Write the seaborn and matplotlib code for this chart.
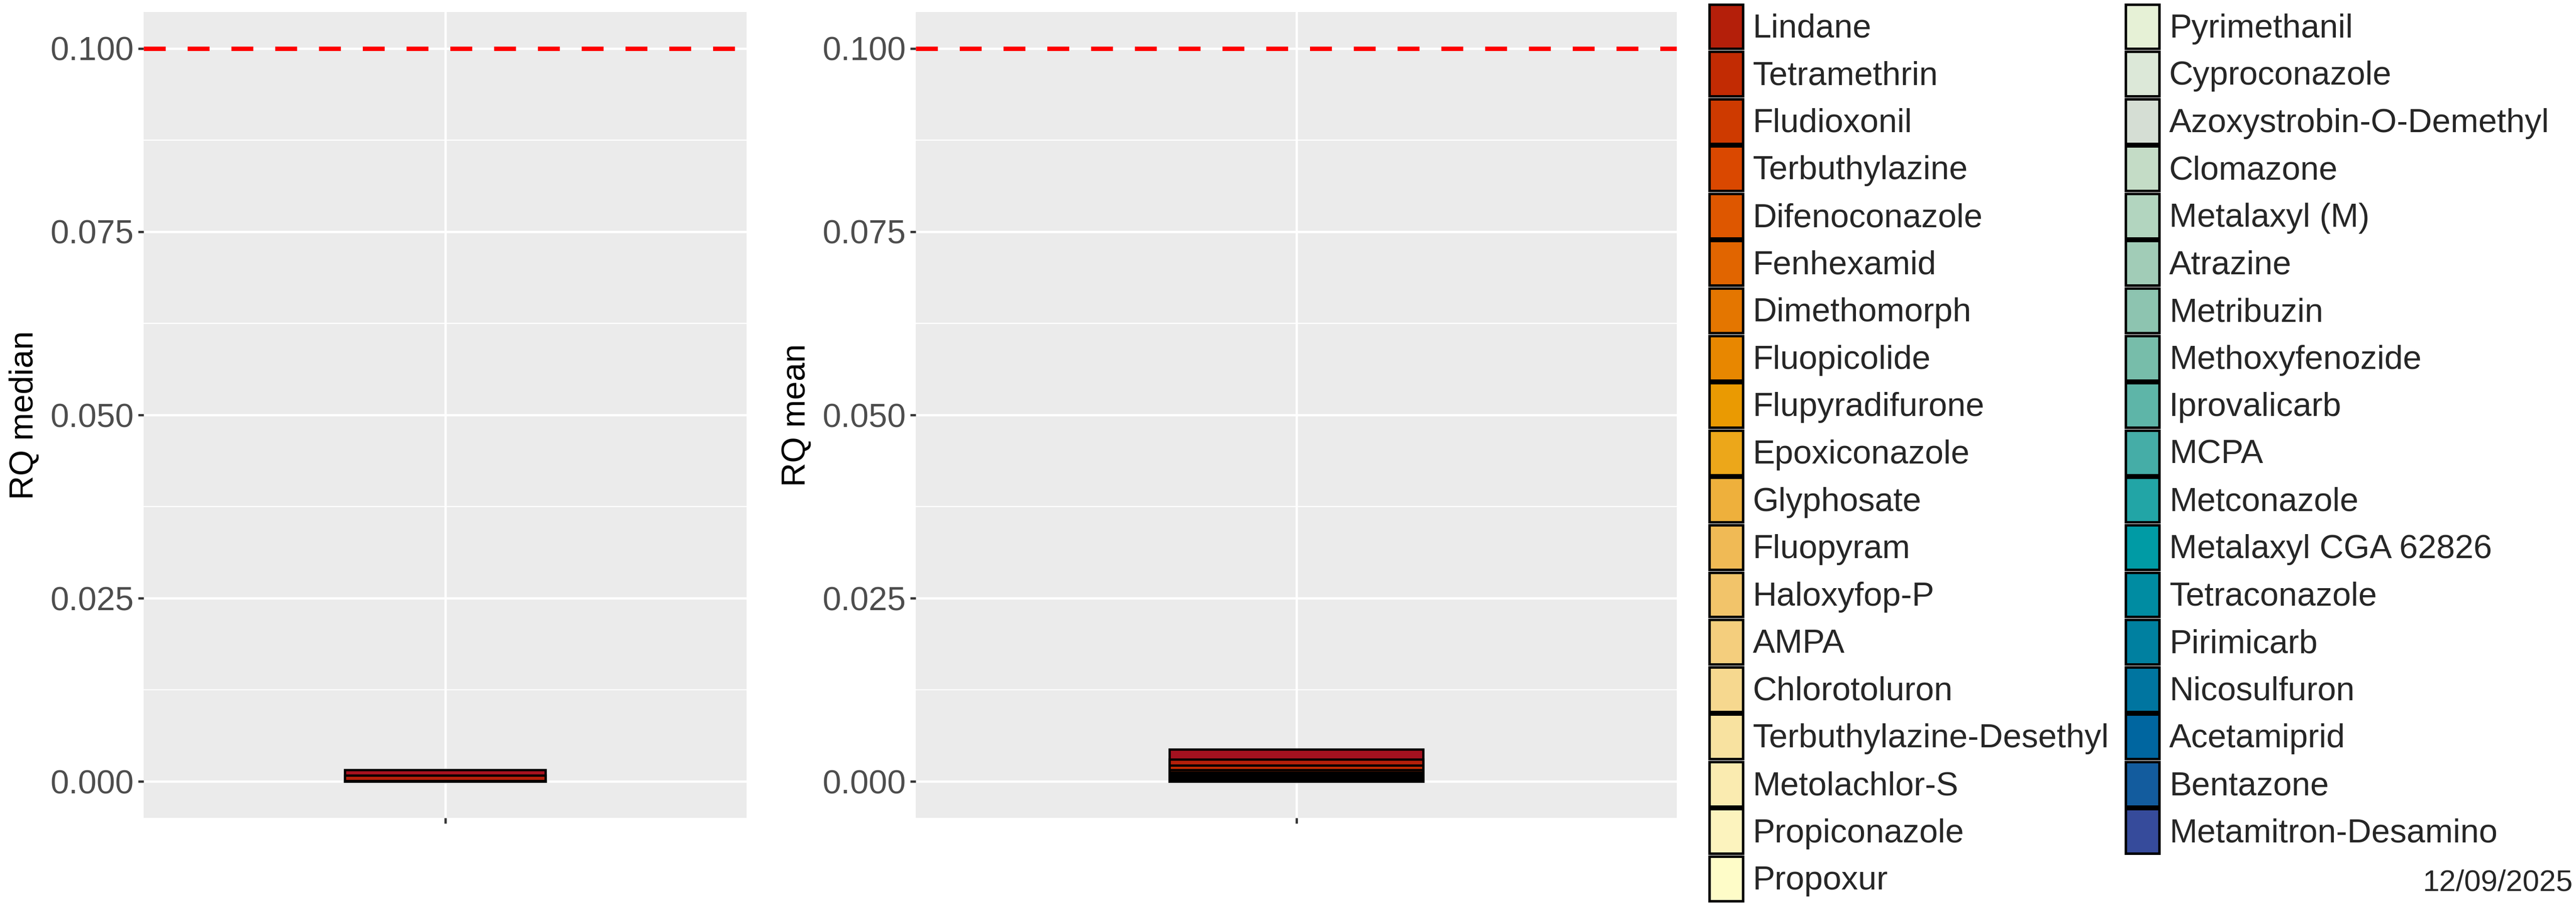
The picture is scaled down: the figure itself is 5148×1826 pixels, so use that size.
import numpy as np
import pandas as pd
import matplotlib
matplotlib.use("Agg")
import matplotlib.pyplot as plt
from matplotlib.patches import Patch
from matplotlib.ticker import MultipleLocator, StrMethodFormatter
import seaborn as sns

# stacking order: first compound sits on top of the bar
compounds = [
    "Hidden 1", "Lindane", "Tetramethrin", "Fludioxonil", "Terbuthylazine",
    "Difenoconazole", "Fenhexamid", "Dimethomorph", "Fluopicolide",
    "Flupyradifurone", "Epoxiconazole", "Glyphosate", "Fluopyram",
    "Haloxyfop-P", "AMPA", "Chlorotoluron", "Terbuthylazine-Desethyl",
    "Metolachlor-S", "Propiconazole", "Propoxur",
    "Hidden 2", "Pyrimethanil", "Cyproconazole", "Azoxystrobin-O-Demethyl",
    "Clomazone", "Metalaxyl (M)", "Atrazine", "Metribuzin", "Methoxyfenozide",
    "Iprovalicarb", "MCPA", "Metconazole", "Metalaxyl CGA 62826",
    "Tetraconazole", "Pirimicarb", "Nicosulfuron", "Acetamiprid", "Bentazone",
    "Metamitron-Desamino",
]
# the two "Hidden" entries fall outside the picture's legend
hidden = ["Hidden 1", "Hidden 2"]

colours = [
    "#A5111F", "#B41F0A", "#C22B03", "#CE3A00", "#DA4800",
    "#DE5700", "#E16500", "#E47600", "#E88700",
    "#EA9A02", "#ECA71A", "#EEB03C", "#F0BA55",
    "#F2C46A", "#F4CE7D", "#F6D88F", "#F8E2A0",
    "#FAEBB0", "#FCF3BE", "#FEFCC8",
    "#F0F6D2", "#E6F1D6", "#DCE8D8", "#D5DED4",
    "#C4DCC6", "#B2D5BF", "#A1CCB7", "#8DC4B0", "#77BDAA",
    "#5EB5A8", "#45ADA7", "#22A5A6", "#009BA5",
    "#008CA2", "#0080A0", "#0075A0", "#0066A0", "#135C9E",
    "#364B9B",
]

rq_median = [
    0.00077, 0.00075, 0.00001, 0.00001, 0.00001,
    0.000005, 0.000005, 0.000005, 0.000004,
    0.000004, 0.000003, 0.000003, 0.000003,
    0.000002, 0.000002, 0.000002, 0.000002,
    0.000001, 0.000001, 0.000001,
    0.000001, 0.000001, 0.000001, 0.000001,
    0.000001, 0.000001, 0.000001, 0.0, 0.0,
    0.0, 0.0, 0.0, 0.0,
    0.0, 0.0, 0.0, 0.0, 0.0,
    0.0,
]

rq_mean = [
    0.00131, 0.00087, 0.00057, 0.00039, 0.00018,
    0.00014, 0.00011, 0.00009, 0.00008,
    0.00007, 0.00006, 0.00005, 0.00005,
    0.00004, 0.00004, 0.00003, 0.00003,
    0.00003, 0.00002, 0.00002,
    0.00002, 0.00002, 0.00002, 0.00001,
    0.00001, 0.00001, 0.00001, 0.00001, 0.00001,
    0.00001, 0.00001, 0.000008, 0.000006,
    0.000005, 0.000004, 0.000003, 0.000002, 0.000002,
    0.000001,
]

threshold = 0.1
date_label = "12/09/2025"

sns.set_theme(style="darkgrid", rc={"axes.facecolor": "#EBEBEB", "grid.color": "white"})
plt.rcParams["font.family"] = ["Liberation Sans", "DejaVu Sans"]

fig = plt.figure(figsize=(17.16, 6.0867), dpi=300)
ax1 = fig.add_axes([0.0558, 0.105, 0.234, 0.882])
ax2 = fig.add_axes([0.3555, 0.105, 0.2955, 0.882])


def stacked_bar(ax, values, ylabel):
    df = pd.DataFrame({"compound": compounds, "rq": values, "colour": colours})
    # top of each segment = sum of itself and everything stacked below it
    df["top"] = df["rq"][::-1].cumsum()[::-1]
    for _, row in df.iterrows():
        sns.barplot(x=["RQ"], y=[row["top"]], color=row["colour"], width=0.4,
                    saturation=1, edgecolor="black", linewidth=1.1,
                    errorbar=None, ax=ax)
    ax.axhline(threshold, color="red", linestyle=(0, (5, 5)), linewidth=2.1, zorder=5)
    ax.set_xlim(-0.6, 0.6)
    ax.set_ylim(-0.005, 0.105)
    ax.yaxis.set_major_locator(MultipleLocator(0.025))
    ax.yaxis.set_minor_locator(MultipleLocator(0.0125))
    ax.yaxis.set_major_formatter(StrMethodFormatter("{x:.3f}"))
    ax.grid(which="major", color="white", linewidth=1.1)
    ax.grid(which="minor", axis="y", color="white", linewidth=0.55)
    ax.set_axisbelow(True)
    ax.set_xticks([0])
    ax.set_xticklabels([""])
    ax.set_xlabel("")
    ax.set_ylabel(ylabel, fontsize=16, color="black", labelpad=5)
    ax.tick_params(which="major", bottom=True, left=True, length=2.75, width=1.1,
                   color="#333333", labelcolor="#4D4D4D", labelsize=16, pad=2)
    ax.tick_params(which="minor", length=0)
    for s in ax.spines.values():
        s.set_visible(False)


stacked_bar(ax1, rq_median, "RQ median")
stacked_bar(ax2, rq_mean, "RQ mean")

handles = [Patch(facecolor=c, edgecolor="black", linewidth=1.2, label=n)
           for n, c in zip(compounds, colours) if n not in hidden]
fig.legend(handles=handles, ncol=2, loc="upper left", bbox_to_anchor=(0.6636, 0.9953),
           frameon=False, fontsize=16, handlelength=1.0, handleheight=1.675,
           labelspacing=0.085, handletextpad=0.3, columnspacing=0.5,
           borderpad=0, borderaxespad=0)

fig.text(0.9987, 0.034, date_label, ha="right", va="center", fontsize=14.4)

fig.savefig("out.png", dpi=300)
